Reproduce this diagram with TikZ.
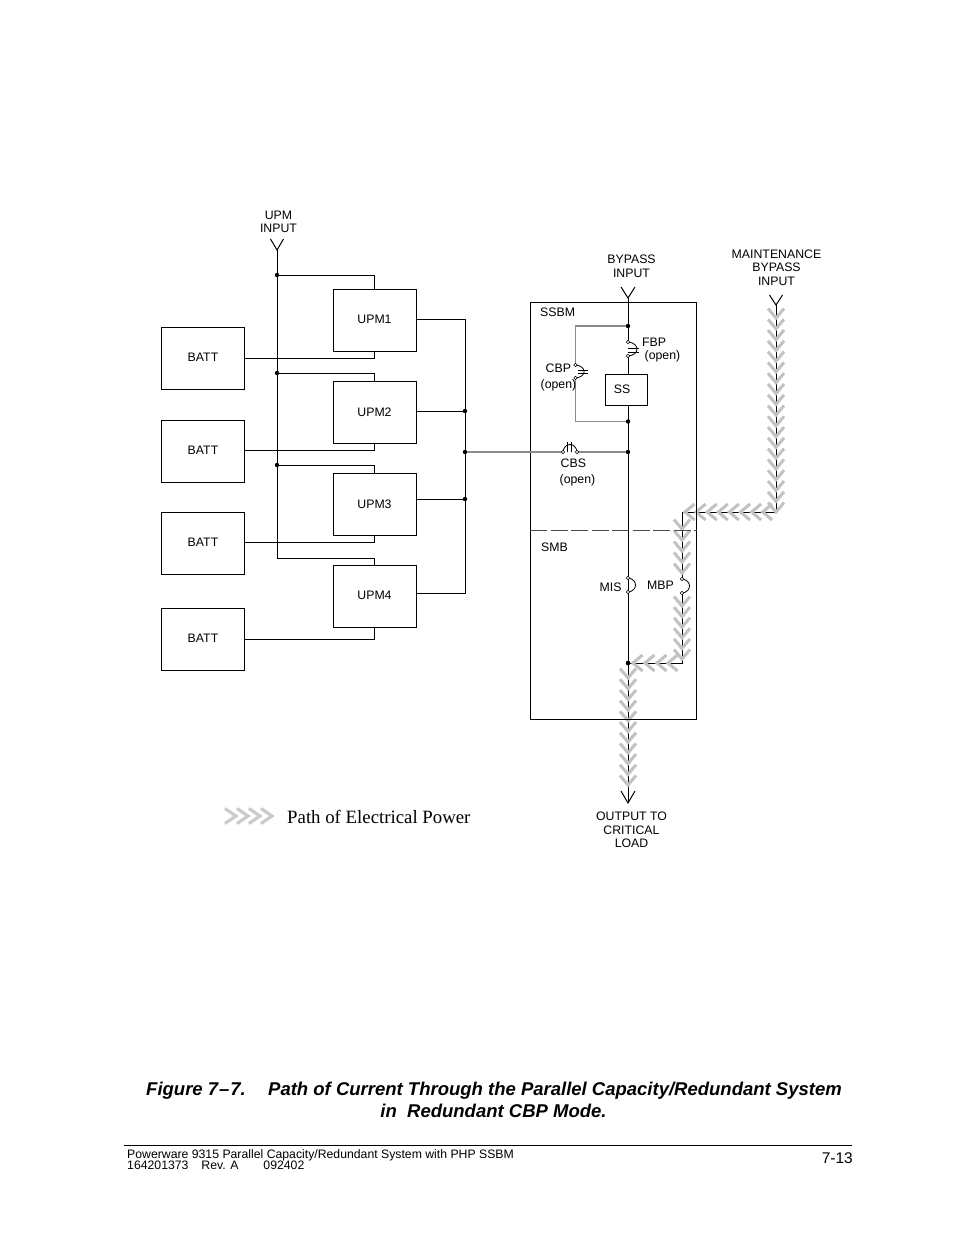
\documentclass[tikz,border=0pt]{standalone}
\usepackage{fontspec}
\setmainfont{Liberation Sans}
\newfontfamily\serifcap{Liberation Serif}
\usetikzlibrary{calc}
\definecolor{chev}{gray}{0.76}
\definecolor{wireg}{gray}{0.55}
\tikzset{
  x=1pt,y=-1pt,
  wire/.style={draw=black,line width=1pt,line join=miter},
  gwire/.style={draw=wireg,line width=1.5pt},
  box/.style={draw=black,line width=0.9pt,minimum width=83pt,minimum height=62pt,inner sep=0pt,font=\fontsize{12.3}{14}\selectfont},
  lbl/.style={inner sep=0pt,align=center,font=\fontsize{12.3}{13.6}\selectfont},
  dot/.style={circle,fill=black,inner sep=0pt,minimum size=4.4pt},
  contact/.style={circle,draw=black,fill=white,line width=0.6pt,inner sep=0pt,minimum size=3.6pt},
  chevstroke/.style={draw=chev,line width=3pt,line cap=butt,line join=miter},
  legendstroke/.style={draw=chev!85!white,line width=3.2pt,line cap=butt,line join=miter},
}
\newcommand{\chevD}[2]{\draw[chevstroke] (#1-8,#2-9.5) -- (#1,#2) -- (#1+8,#2-9.5);}
\newcommand{\chevL}[2]{\draw[chevstroke] (#1+9.5,#2-8) -- (#1,#2) -- (#1+9.5,#2+8);}
\newcommand{\chevR}[2]{\draw[legendstroke] (#1-11,#2-7.5) -- (#1,#2) -- (#1-11,#2+7.5);}
\newcommand{\up}[1]{\raisebox{1.5pt}{#1}}
\begin{document}
\begin{tikzpicture}
\useasboundingbox (0,0) rectangle (954,1235);
\fill[white] (0,0) rectangle (954,1235);

% fixed points of the power path
\coordinate (bi) at (628,298);
\coordinate (outp) at (628,803);
\node[dot] (m1) at (628,326) {};
\node[dot] (m2) at (628,421.5) {};
\node[dot] (m3) at (628,452) {};
\node[dot] (m4) at (628,663) {};
\coordinate (mi) at (776,305);
\coordinate (mc) at (776,512);
\coordinate (mj) at (682,512);
\coordinate (mbpT) at (682,579);
\coordinate (mbpB) at (682,593);
\coordinate (mk) at (682,663);

% wires below the chevrons
\draw[wire,line width=0.9pt] (mi) -- (mc) -- (mj) -- (mbpT);
\draw[wire,line width=0.9pt] (mbpB) -- (mk) -- (m4);
\draw[wire] (m4) -- (outp);

% power path chevrons
\foreach \i in {0,...,18} {\chevD{776}{318+10.78*\i}}
\foreach \i in {0,...,7} {\chevL{685+11.1*\i}{512}}
\foreach \i in {0,...,4} {\chevD{682}{529+11*\i}}
\foreach \i in {0,...,5} {\chevD{682}{606+10.6*\i}}
\foreach \x in {633,645,657,668} {\chevL{\x}{663}}
\foreach \i in {0,...,10} {\chevD{628}{678+10.7*\i}}
% legend
\foreach \x in {236,248,260,272} {\chevR{\x}{816}}

% enclosure
\node[box,minimum width=166pt,minimum height=417.5pt,anchor=north west] (ssbm) at (530,301.5) {};
\coordinate (dashL) at (ssbm.west |- 0,530);
\coordinate (dashR) at (ssbm.east |- 0,530);
\draw[draw=black!70,line width=0.9pt,dash pattern=on 17pt off 3.5pt] (dashL) -- (dashR);
\node[dot] at (m4) {};

% UPMs and batteries
\node[box] (upm1) at (374.5,320.5) {\up{UPM1}};
\node[box] (upm2) at (374.5,412.5) {\up{UPM2}};
\node[box] (upm3) at (374.5,504.5) {\up{UPM3}};
\node[box] (upm4) at (374.5,596.5) {\up{UPM4}};
\node[box] (batt1) at (203,358.5) {\up{BATT}};
\node[box] (batt2) at (203,451) {\up{BATT}};
\node[box] (batt3) at (203,543.5) {\up{BATT}};
\node[box] (batt4) at (203,639.5) {\up{BATT}};

% UPM input
\coordinate (ui) at (277,250);
\node[dot] (j1) at (277,275) {};
\node[dot] (j2) at (277,373) {};
\node[dot] (j3) at (277,465) {};
\coordinate (j4) at (277,558);
\draw[wire] (ui) -- (j4);
\draw[wire] ($(ui)+(-6.5,-11)$) -- (ui) -- ($(ui)+(6.5,-11)$);
\draw[wire] (j1) -| (upm1.north);
\draw[wire] (j2) -| (upm2.north);
\draw[wire] (j3) -| (upm3.north);
\draw[wire] (j4) -| (upm4.north);
% battery feeds
\draw[wire] (batt1.east |- 0,358.5) -| (upm1.south);
\draw[wire] (batt2.east |- 0,450.5) -| (upm2.south);
\draw[wire] (batt3.east |- 0,542.5) -| (upm3.south);
\draw[wire] (batt4.east |- 0,639) -| (upm4.south);
% UPM outputs
\coordinate (bt) at (465,319);
\coordinate (bb) at (465,593);
\node[dot] (o2) at (465,411) {};
\node[dot] (o3) at (465,499) {};
\node[dot] (ob) at (465,452) {};
\draw[wire] (upm1.east |- bt) -- (bt) -- (bb) -- (upm4.east |- bb);
\draw[wire] (upm2.east |- o2) -- (o2);
\draw[wire] (upm3.east |- o3) -- (o3);

% bypass main line
\node[box,minimum width=42pt,minimum height=31pt] (ss) at (626,389.5) {\hspace*{-8pt}SS};
\coordinate (fbpT) at (628,342);
\coordinate (fbpB) at (628,356);
\draw[wire] (bi) -- (fbpT);
\draw[wire] (fbpB) -- (ss.north -| fbpB);
\draw[wire] (ss.south -| m2) -- (m4);
\draw[wire] ($(bi)+(-7,-11)$) -- (bi) -- ($(bi)+(7,-11)$);
\draw[wire] ($(outp)+(-7,-12)$) -- (outp) -- ($(outp)+(7,-12)$);

% FBP
\draw[line width=0.8pt] (fbpT) .. controls (640,343) and (640,355) .. (fbpB);
\draw[line width=0.8pt] (628,348.5) -- (639,348.5) (628,352) -- (639,352);
\node[contact] at (fbpT) {};
\node[contact] at (fbpB) {};

% CBP branch
\coordinate (cbpT) at (575.5,365);
\coordinate (cbpB) at (575.5,378);
\draw[gwire] (m1) -| (cbpT);
\draw[gwire] (cbpB) |- (m2);
\draw[line width=0.8pt] (cbpT) .. controls (587,366) and (587,377) .. (cbpB);
\draw[line width=0.8pt] (578,370) -- (588,370) (578,373.5) -- (588,373.5);
\node[contact] at (cbpT) {};
\node[contact] at (cbpB) {};

% CBS branch
\coordinate (cbsL) at (563,452);
\coordinate (cbsR) at (577,452);
\draw[gwire] (ob) -- (cbsL);
\draw[gwire] (cbsR) -- (m3);
\draw[line width=0.8pt] (cbsL) .. controls (564,442) and (576,442) .. (cbsR);
\draw[line width=0.8pt] (567.5,442) -- (567.5,452) (571.5,442) -- (571.5,452);
\node[contact] at (cbsL) {};
\node[contact] at (cbsR) {};

% MIS
\coordinate (misT) at (628,578);
\coordinate (misB) at (628,592);
\draw[line width=0.8pt] (misT) .. controls (638,579) and (638,591) .. (misB);
\node[contact] at (misT) {};
\node[contact] at (misB) {};

% Maintenance bypass
\draw[wire] ($(mi)+(-6.5,-10)$) -- (mi) -- ($(mi)+(6.5,-10)$);
\draw[line width=0.8pt] (mbpT) .. controls (692,580) and (692,592) .. (mbpB);
\node[contact] at (mbpT) {};
\node[contact] at (mbpB) {};

% labels
\node[lbl] (tUI) at (278.5,222) {UPM\\INPUT};
\node[lbl] (tBI) at (631.5,266.5) {BYPASS\\INPUT};
\node[lbl] (tMI) at (776.5,267.5) {MAINTENANCE\\BYPASS\\INPUT};
\node[lbl,anchor=west] (tS1) at (540,312) {SSBM};
\node[lbl,anchor=west] (tS2) at (541,547) {SMB};
\node[lbl,anchor=west] (tF1) at (642,342) {FBP};
\node[lbl,anchor=west] (tF2) at (644.5,356) {(open)};
\node[lbl,anchor=west] (tC1) at (545.5,368) {CBP};
\node[lbl,anchor=west] (tC2) at (540.5,385.5) {(open)};
\node[lbl,anchor=west] (tC3) at (560.5,463) {CBS};
\node[lbl,anchor=west] (tC4) at (559.5,480.5) {(open)};
\node[lbl,anchor=west] (tM1) at (599.5,587) {MIS};
\node[lbl,anchor=west] (tM2) at (647,585.5) {MBP};
\node[lbl] (tO) at (631.5,830) {OUTPUT TO\\CRITICAL\\LOAD};
\node[inner sep=0pt,anchor=west,font=\serifcap\fontsize{18.8}{22}\selectfont] (tL) at (287,817) {Path of Electrical Power};

% caption
\node[inner sep=0pt,anchor=base west,font=\bfseries\itshape\fontsize{18.5}{22}\selectfont] (cap0) at (146,1095) {Figure 7\hspace{1pt}--\hspace{1pt}7.};
\node[inner sep=0pt,anchor=base west,font=\bfseries\itshape\fontsize{18.5}{22}\selectfont] (cap1) at (268,1095) {Path of Current Through the Parallel Capacity/Redundant System};
\node[inner sep=0pt,anchor=base,font=\bfseries\itshape\fontsize{18.5}{22}\selectfont] (cap2) at (493.5,1117) {in\ \ Redundant CBP Mode.};

% footer
\coordinate (fL) at (124,1145.5);
\coordinate (fR) at (852,1145.5);
\draw[line width=0.9pt] (fL) -- (fR);
\node[inner sep=0pt,anchor=base west,font=\fontsize{12.25}{14}\selectfont] (f1) at (127,1158) {Powerware 9315 Parallel Capacity/Redundant System with PHP SSBM};
\node[inner sep=0pt,anchor=base west,font=\fontsize{12.25}{14}\selectfont] (f2) at (127,1169.5) {164201373\hspace{13pt}Rev. A\hspace{25pt}092402};
\node[inner sep=0pt,anchor=base east,font=\fontsize{15.5}{18}\selectfont] (f3) at (853,1163) {7-13};
\end{tikzpicture}
\end{document}
